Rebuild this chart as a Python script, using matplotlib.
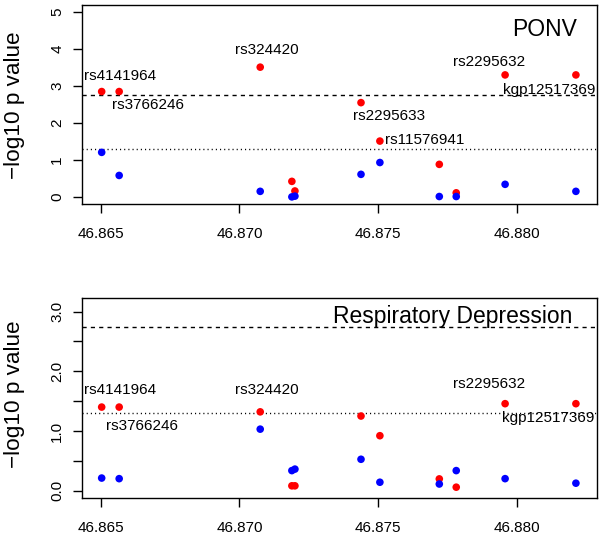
import matplotlib
matplotlib.use("Agg")
import matplotlib.pyplot as plt
from matplotlib.ticker import FuncFormatter

plt.rcParams['font.family'] = ['Liberation Sans', 'DejaVu Sans']

# SNP positions (Mb)
snp_pos = [46.86504, 46.86567, 46.87075, 46.87189, 46.87200, 46.87438,
           46.87506, 46.87720, 46.87781, 46.87957, 46.88212]

# -log10 p values, PONV
ponv_red = [2.85, 2.85, 3.51, 0.42, 0.16, 2.55, 1.51, 0.88, 0.11, 3.30, 3.30]
ponv_blue = [1.205, 0.58, 0.15, 0.00, 0.02, 0.61, 0.93, 0.01, 0.01, 0.34, 0.15]

# -log10 p values, respiratory depression
resp_red = [1.40, 1.40, 1.32, 0.08, 0.08, 1.25, 0.92, 0.196, 0.057, 1.457, 1.457]
resp_blue = [0.21, 0.20, 1.03, 0.335, 0.36, 0.525, 0.14, 0.11, 0.335, 0.20, 0.124]

bonf_line = 2.75
nominal_line = 1.301

x_ticks = [46.865, 46.870, 46.875, 46.880]

# label text and where it sits (data coords)
ponv_labels = [('rs4141964', 46.86570, 3.28), ('rs3766246', 46.86670, 2.48),
               ('rs324420', 46.87100, 3.98), ('rs2295633', 46.87540, 2.19),
               ('rs11576941', 46.87669, 1.53), ('rs2295632', 46.87901, 3.64),
               ('kgp12517369', 46.88114, 2.90)]
resp_labels = [('rs4141964', 46.86570, 1.687), ('rs3766246', 46.86650, 1.084),
               ('rs324420', 46.87100, 1.687), ('rs2295632', 46.87901, 1.787),
               ('kgp12517369', 46.88112, 1.213)]

fig = plt.figure(figsize=(6.02, 5.39), dpi=100)
ax1 = fig.add_axes([0.1357, 0.621, 0.856, 0.3703])
ax2 = fig.add_axes([0.1357, 0.0761, 0.856, 0.3705])


def draw_panel(ax, red, blue, labels, title, title_xy, ylim):
    ax.axhline(bonf_line, color='black', lw=1, dashes=(3, 3))
    ax.axhline(nominal_line, color='black', lw=1, dashes=(0.8, 2.2))
    ax.scatter(snp_pos, red, s=30, color='#ff0000', edgecolors='none', zorder=3)
    ax.scatter(snp_pos, blue, s=30, color='#0000ff', edgecolors='none', zorder=4)
    for name, x, y in labels:
        ax.text(x, y, name, fontsize=11, ha='center', va='center', zorder=5)
    ax.text(title_xy[0], title_xy[1], title, fontsize=16.5, ha='center', va='center')
    ax.set_xlim(46.86432, 46.88288)
    ax.set_ylim(*ylim)
    ax.set_xticks(x_ticks)
    ax.xaxis.set_major_formatter(FuncFormatter(lambda v, p: '%.3f' % v))
    ax.tick_params(axis='both', direction='out', length=6.5, width=1, labelsize=11)
    ax.tick_params(axis='x', pad=10)
    ax.tick_params(axis='y', labelrotation=90, pad=6)
    for lab in ax.get_yticklabels():
        lab.set_va('center')
    for s in ax.spines.values():
        s.set_linewidth(1)


draw_panel(ax1, ponv_red, ponv_blue, ponv_labels, 'PONV', (46.88100, 4.54), (-0.2, 5.2))
ax1.set_yticks([0, 1, 2, 3, 4, 5])

draw_panel(ax2, resp_red, resp_blue, resp_labels, 'Respiratory Depression',
           (46.87767, 2.915), (-0.124, 3.224))
ax2.set_yticks([0, 0.5, 1, 1.5, 2, 2.5, 3])
ax2.yaxis.set_major_formatter(FuncFormatter(lambda v, p: '%.1f' % v if v == int(v) else ''))
for lab in ax2.get_yticklabels():
    lab.set_va('center')
for lab in ax1.get_yticklabels():
    lab.set_va('center')

fig.text(15 / 602, 1 - 105 / 539, '\u2212log10 p value', fontsize=16.2,
         rotation=90, ha='center', va='center')
fig.text(15 / 602, 1 - 394 / 539, '\u2212log10 p value', fontsize=16.2,
         rotation=90, ha='center', va='center')

fig.savefig('out.png', dpi=100)
